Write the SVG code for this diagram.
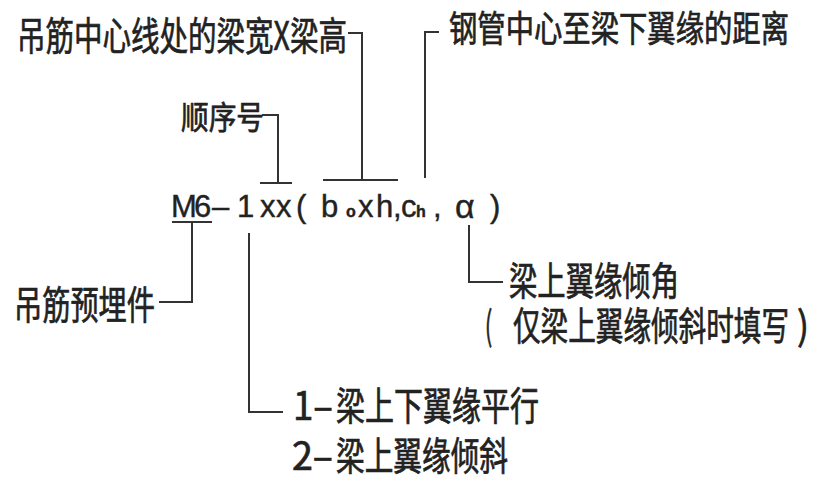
<svg xmlns="http://www.w3.org/2000/svg" width="814" height="477" viewBox="0 0 814 477">
<style>
.cjk{font-family:"Noto Sans CJK SC","Noto Sans CJK TC",sans-serif;font-size:39px;fill:#222;stroke:#222;stroke-width:0.7px;}
.lat{font-family:"Liberation Sans",Arial,sans-serif;font-size:31px;fill:#222;stroke:#222;stroke-width:0.4px;}
.sub{font-size:16px;font-weight:bold;}
.conn{fill:none;stroke:#333;stroke-width:2;}
</style>
<rect width="814" height="477" fill="#fff"/>
<g id="connectors">
<path class="conn" d="M348,33 H362 V180"/>
<path class="conn" d="M323,180 H398"/>
<path class="conn" d="M439,32 H425 V178"/>
<path class="conn" d="M262,115 H278 V183"/>
<path class="conn" d="M260,183 H292"/>
<path class="conn" d="M172,222 H212"/>
<path class="conn" d="M192,222 V302 H159"/>
<path class="conn" d="M249,233 V412 H283"/>
<path class="conn" d="M469,225 V282 H503"/>
</g>
<g id="label-width-height">
<text class="cjk" x="17" y="50" textLength="330" lengthAdjust="spacingAndGlyphs">吊筋中心线处的梁宽X梁高</text>
</g>
<g id="label-distance">
<text class="cjk" x="449" y="42" style="font-size:36px" textLength="340" lengthAdjust="spacingAndGlyphs">钢管中心至梁下翼缘的距离</text>
</g>
<g id="label-seq">
<text class="cjk" x="181" y="129" style="font-size:32px" textLength="83" lengthAdjust="spacingAndGlyphs">顺序号</text>
</g>
<g id="main-code">
<text class="lat" y="217"><tspan x="171">M</tspan><tspan x="194">6</tspan><tspan x="212">–</tspan><tspan x="237">1</tspan><tspan x="260">x</tspan><tspan x="276">x</tspan><tspan x="296">(</tspan><tspan x="321">b</tspan><tspan x="346" class="sub">o</tspan><tspan x="358">x</tspan><tspan x="376">h</tspan><tspan x="393">,</tspan><tspan x="401">c</tspan><tspan x="416" class="sub">h</tspan><tspan x="433">,</tspan><tspan x="455" y="218" style="font-size:34px">α</tspan><tspan x="490" y="217">)</tspan></text>
</g>
<g id="label-embed">
<text class="cjk" x="14" y="319" textLength="141" lengthAdjust="spacingAndGlyphs">吊筋预埋件</text>
</g>
<g id="label-angle">
<text class="cjk" x="509" y="295" textLength="170" lengthAdjust="spacingAndGlyphs">梁上翼缘倾角</text>
<text class="cjk" y="340"><tspan x="485" textLength="12" lengthAdjust="spacingAndGlyphs">( </tspan><tspan x="513" textLength="276" lengthAdjust="spacingAndGlyphs">仅梁上翼缘倾斜时填写</tspan><tspan x="797" textLength="12" lengthAdjust="spacingAndGlyphs">)</tspan></text>
</g>
<g id="label-types">
<text class="cjk" y="420"><tspan x="293" textLength="40" lengthAdjust="spacingAndGlyphs">1–</tspan><tspan x="336" textLength="203" lengthAdjust="spacingAndGlyphs">梁上下翼缘平行</tspan></text>
<text class="cjk" y="470"><tspan x="292" textLength="41" lengthAdjust="spacingAndGlyphs">2–</tspan><tspan x="336" textLength="172" lengthAdjust="spacingAndGlyphs">梁上翼缘倾斜</tspan></text>
</g>
</svg>
